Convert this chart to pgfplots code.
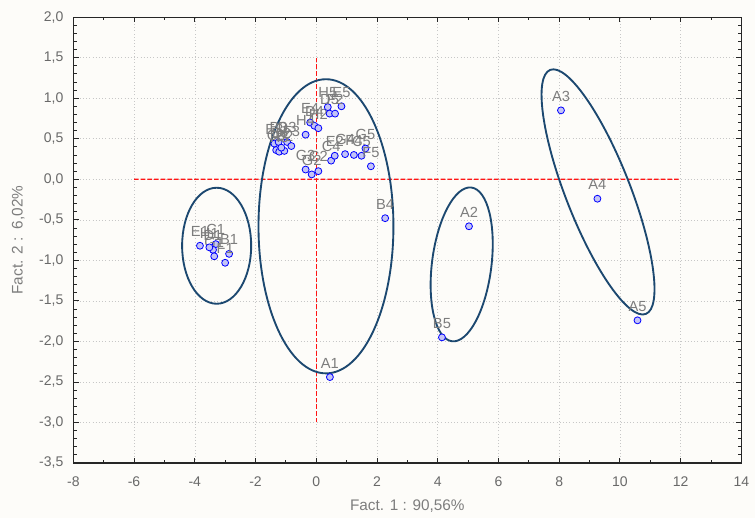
\documentclass[border=0pt]{standalone}
\usepackage{fontspec}
\setmainfont{Liberation Sans}
\usepackage{pgfplots}
\usepackage{pgfplotstable}
\pgfplotsset{compat=1.18}
\definecolor{ptfill}{RGB}{196,196,246}
\definecolor{ellc}{RGB}{28,72,112}
\definecolor{txtgray}{RGB}{125,125,125}
\definecolor{tickgray}{RGB}{105,105,105}
\definecolor{bgc}{RGB}{253,252,249}
\definecolor{refred}{RGB}{255,20,20}

\pgfplotstableread{
x y lab
0.45 -2.44 A1
5.03 -0.58 A2
8.06 0.85 A3
9.26 -0.24 A4
10.58 -1.74 A5
-2.87 -0.92 B1
-3.31 -0.80 C1
-3.40 -0.87 D1
-3.83 -0.82 E1
-3.00 -1.03 F1
-3.36 -0.95 G1
-3.52 -0.84 H1
-1.38 0.44 E3
-1.24 0.46 B3
-0.96 0.46 D3
-0.82 0.41 F3
-1.32 0.36 C3
-1.22 0.34 H3
-1.05 0.35 B2
-1.15 0.39 D2
-0.35 0.12 G3
-0.15 0.06 G2
0.07 0.10 C2
0.49 0.23 C4
0.61 0.29 E2
0.95 0.31 G4
1.24 0.30 F4
1.49 0.29 C5
1.62 0.38 G5
1.80 0.16 F5
-0.20 0.70 E4
-0.06 0.66 D4
0.07 0.63 H2
-0.35 0.55 H4
0.38 0.89 H5
0.83 0.90 E5
0.44 0.81 D5
0.62 0.81 F2
2.27 -0.48 B4
4.14 -1.95 B5
}\pts

\pgfplotstableread{
x y
-6 0
12 0.0004
}\hrefline
\pgfplotstableread{
x y
0 -3
0 1.5
}\vrefline

\begin{document}
\begin{tikzpicture}
\fill[bgc] (-55pt,-41.25pt) rectangle (511.25pt,347.25pt);
\begin{axis}[
  scale only axis, width=501pt, height=334.4pt,
  xmin=-8, xmax=14, ymin=-3.5, ymax=2.0,
  xtick={-8,-6,-4,-2,0,2,4,6,8,10,12,14},
  ytick={-3.5,-3,-2.5,-2,-1.5,-1,-0.5,0,0.5,1,1.5,2},
  minor x tick num=1, minor y tick num=4,
  tick align=inside,
  major tick length=4pt, minor tick length=2.5pt,
  xmajorgrids, ymajorgrids,
  major grid style={dotted, black!22},
  axis line style={black!85, line width=0.8pt},
  tick style={black!85, line width=0.6pt},
  axis background/.style={fill=bgc},
  /pgf/number format/.cd, fixed, fixed zerofill, precision=1, use comma, assume math mode=true,
  /pgfplots/.cd,
  ticklabel style={font=\fontsize{10.5}{12}\selectfont, text=tickgray},
  xticklabel style={/pgf/number format/fixed zerofill=false, /pgf/number format/precision=0, yshift=-7pt},
  yticklabel style={xshift=-4pt},
  every axis x label/.style={at={(axis description cs:0.5,-0.0975)}, anchor=center},
  every axis y label/.style={at={(axis description cs:-0.0824,0.5)}, rotate=90, anchor=center},
  label style={font=\fontsize{11.5}{13}\selectfont, text=txtgray},
  xlabel={Fact. 1 : 90,56\%},
  ylabel={Fact. 2 :\ \ 6,02\%},
  clip=false,
]
\addplot[draw=refred, dash pattern=on 3.5pt off 1.5pt, line width=1pt, no marks, forget plot] table[x=x,y=y] {\vrefline};
\addplot[draw=refred, dash pattern=on 3.5pt off 1.5pt, line width=1pt, no marks, forget plot] table[x=x,y=y] {\hrefline};

\draw[ellc, line width=1.4pt] (axis cs:-3.28,-0.82) ellipse [x radius=25.9pt, y radius=43.5pt];
\draw[ellc, line width=1.4pt] (axis cs:0.32,-0.58) ellipse [x radius=50.6pt, y radius=110.3pt];
\draw[ellc, line width=1.4pt, rotate around={82.8:(axis cs:4.79,-1.05)}] (axis cs:4.79,-1.05) ellipse [x radius=58.1pt, y radius=22.3pt];
\draw[ellc, line width=1.4pt, rotate around={111.4:(axis cs:9.28,-0.156)}] (axis cs:9.28,-0.156) ellipse [x radius=98.3pt, y radius=24.2pt];

\addplot[only marks, mark=*, mark size=2.6pt,
  mark options={fill=ptfill, draw=blue, line width=0.6pt},
  nodes near coords, point meta=explicit symbolic,
  nodes near coords style={anchor=south, inner sep=0pt, yshift=6.5pt,
    font=\fontsize{11}{12}\selectfont, text=txtgray}]
  table[x=x, y=y, meta=lab] {\pts};
\end{axis}
\pgfresetboundingbox
\path (-55pt,-41.25pt) rectangle (511.25pt,347.25pt);
\end{tikzpicture}
\end{document}
